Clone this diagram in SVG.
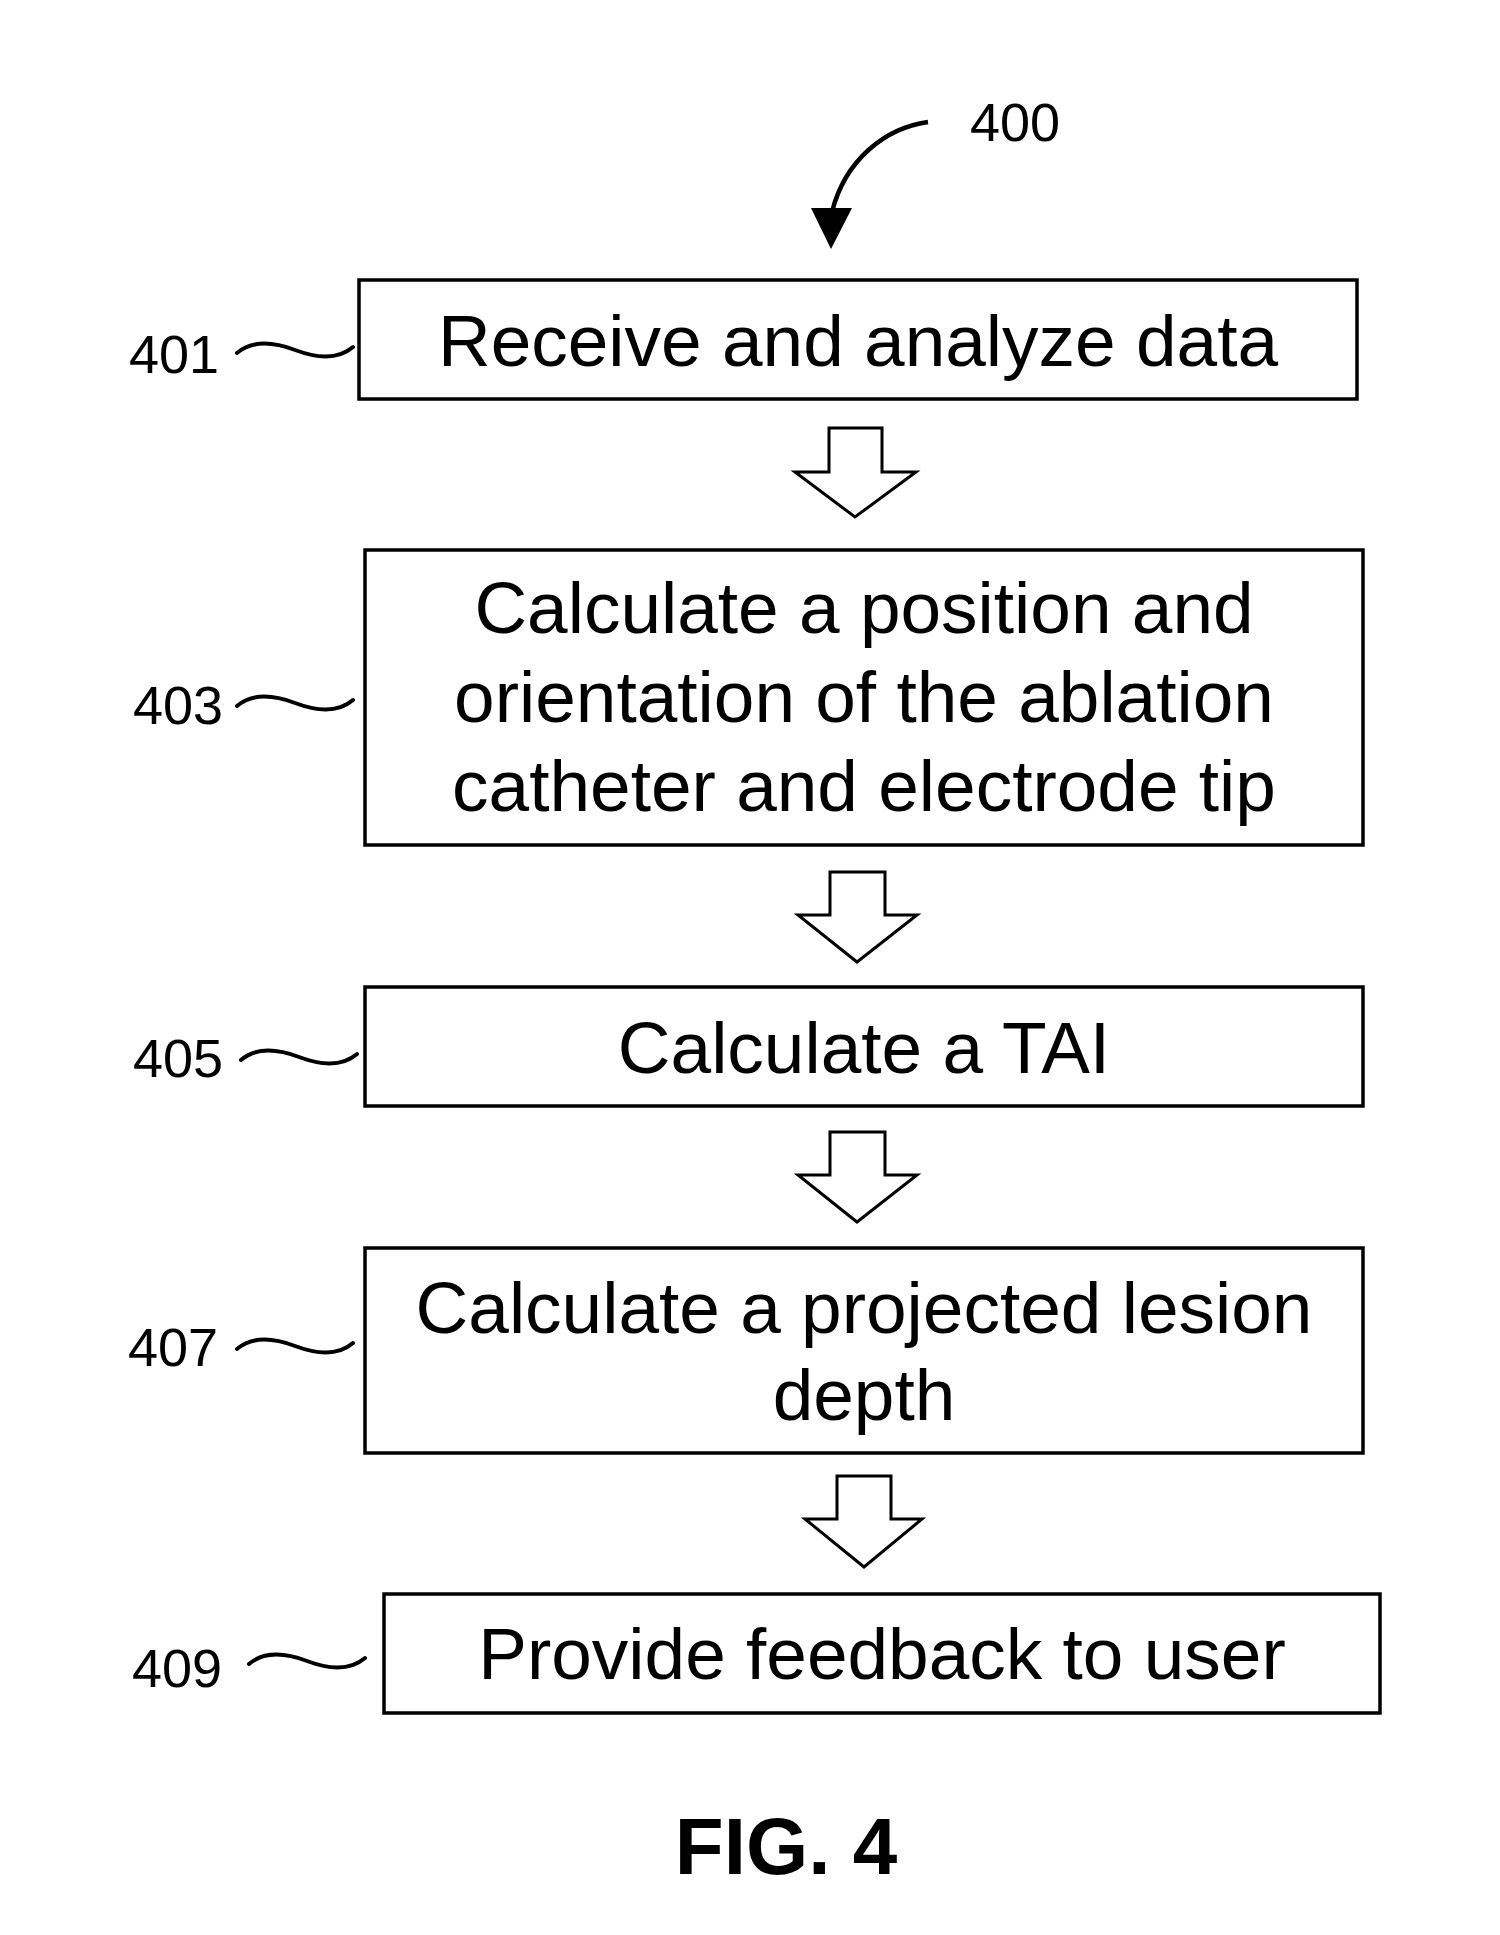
<svg xmlns="http://www.w3.org/2000/svg" width="1500" height="1935" viewBox="0 0 1500 1935">
<style>
.box{fill:#fff;stroke:#000;stroke-width:3.5}
.t{font-family:"Liberation Sans",Arial,sans-serif;font-size:73px;fill:#000;text-anchor:middle}
.lbl{font-family:"Liberation Sans",Arial,sans-serif;font-size:54px;fill:#000}
.tilde{fill:none;stroke:#000;stroke-width:4;stroke-linecap:round}
.harrow{fill:#fff;stroke:#000;stroke-width:3;stroke-linejoin:miter}
</style>
<defs>
<path id="tl" d="M0,3 C14,-9 34,-9 58,0 C82,9 102,9 116,-3"/>
</defs>
<rect width="1500" height="1935" fill="#fff"/>
<g id="connectors">
<path d="M928,122 C885,128 845,160 832,212" fill="none" stroke="#000" stroke-width="4.5"/>
<polygon points="811,208 852,208 831,249" fill="#000"/>
<polygon class="harrow" points="829,428 882,428 882,472 916,472 855,517 795,472 829,472"/>
<polygon class="harrow" points="830,872 885,872 885,915 917,915 857,962 798,915 830,915"/>
<polygon class="harrow" points="830,1132 885,1132 885,1175 917,1175 857,1222 798,1175 830,1175"/>
<polygon class="harrow" points="837,1476 891,1476 891,1519 922,1519 864,1567 805,1519 837,1519"/>
</g>
<g id="label-400"><text class="lbl" x="970" y="141">400</text></g>
<g id="node-401">
<rect class="box" x="359" y="280" width="998" height="119"/>
<text class="t" x="858" y="366">Receive and analyze data</text>
<text class="lbl" x="129" y="373">401</text>
<use href="#tl" class="tilde" transform="translate(237,350)"/>
</g>
<g id="node-403">
<rect class="box" x="365" y="550" width="998" height="295"/>
<text class="t" x="864" y="633">Calculate a position and</text>
<text class="t" x="864" y="722">orientation of the ablation</text>
<text class="t" x="864" y="811">catheter and electrode tip</text>
<text class="lbl" x="133" y="724">403</text>
<use href="#tl" class="tilde" transform="translate(237,703)"/>
</g>
<g id="node-405">
<rect class="box" x="365" y="987" width="998" height="119"/>
<text class="t" x="864" y="1073">Calculate a TAI</text>
<text class="lbl" x="133" y="1077">405</text>
<use href="#tl" class="tilde" transform="translate(241,1057)"/>
</g>
<g id="node-407">
<rect class="box" x="365" y="1248" width="998" height="205"/>
<text class="t" x="864" y="1333">Calculate a projected lesion</text>
<text class="t" x="864" y="1420">depth</text>
<text class="lbl" x="128" y="1366">407</text>
<use href="#tl" class="tilde" transform="translate(237,1346)"/>
</g>
<g id="node-409">
<rect class="box" x="384" y="1594" width="996" height="119"/>
<text class="t" x="882" y="1679">Provide feedback to user</text>
<text class="lbl" x="132" y="1687">409</text>
<use href="#tl" class="tilde" transform="translate(249,1661)"/>
</g>
<g id="caption">
<text x="786" y="1874" font-family="Liberation Sans, Arial, sans-serif" font-size="80" font-weight="bold" text-anchor="middle">FIG. 4</text>
</g>
</svg>
